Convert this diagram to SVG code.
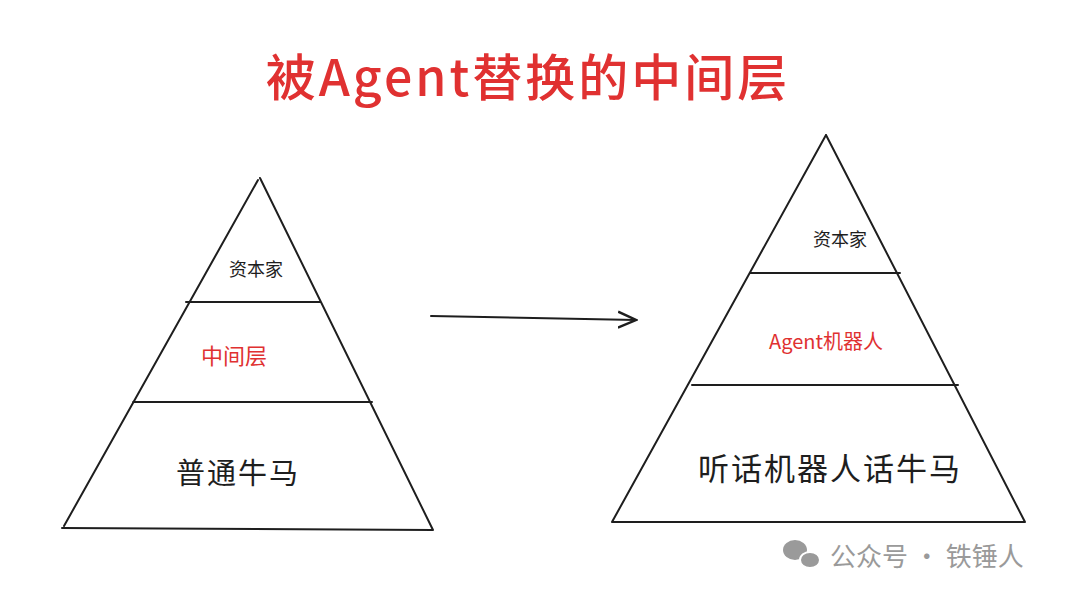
<svg xmlns="http://www.w3.org/2000/svg" width="1080" height="601" viewBox="0 0 1080 601">
<style>
.l{stroke:#1e1e1e;stroke-width:2;fill:none;stroke-linecap:round}
.t{font-family:"Noto Sans CJK SC","Liberation Sans",sans-serif;fill:#1e1e1e;text-anchor:middle}
.r{fill:#e03131}
</style>
<defs><marker id="a" viewBox="0 0 10 10" refX="9" refY="5" markerWidth="10" markerHeight="10" orient="auto"><path d="M0,1L9,5L0,9" fill="none" stroke="#1e1e1e" stroke-width="1.2"/></marker></defs>
<rect width="1080" height="601" fill="#fff"/>
<text class="t r" x="528" y="96" font-size="50" font-weight="500" letter-spacing="3">被Agent替换的中间层</text>
<g id="left">
<path class="l" d="M260,178L433,530M258,180L64,526M62,528L433,530M186,302L320,302M133,402L372,402"/>
<text class="t" x="256" y="276" font-size="18">资本家</text>
<text class="t r" x="234" y="364" font-size="22">中间层</text>
<text class="t" x="238" y="484" font-size="29" letter-spacing="2">普通牛马</text>
</g>
<g id="right">
<path class="l" d="M826,135L1025,522M826,135L612,522M612,522L1025,522M750,273L900,273M692,385L958,385"/>
<text class="t" x="840" y="246" font-size="18">资本家</text>
<text class="t r" x="826" y="349" font-size="20">Agent机器人</text>
<text class="t" x="830" y="480" font-size="31" letter-spacing="2">听话机器人话牛马</text>
</g>
<g id="connectors"><path class="l" d="M431,316L636,320" marker-end="url(#a)"/></g>
<g id="wm" fill="#9a9a9a">
<ellipse cx="795" cy="550" rx="12" ry="10"/><ellipse cx="810" cy="560" rx="10" ry="8" stroke="#fff" stroke-width="2"/>
<text x="830" y="566" font-size="26" font-family="Noto Sans CJK SC,sans-serif" fill="#9a9a9a">公众号 · 铁锤人</text>
</g>
</svg>
